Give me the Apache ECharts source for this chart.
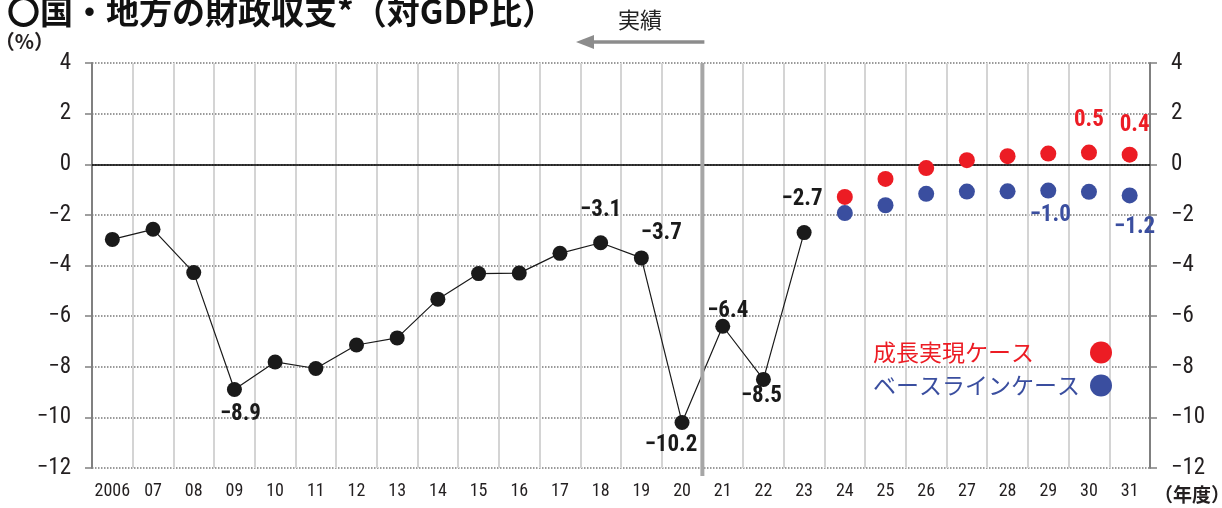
<!DOCTYPE html>
<html><head><meta charset="utf-8">
<script src="https://cdn.jsdelivr.net/npm/echarts@6.0.0/dist/echarts.min.js"></script>
<style>html,body{margin:0;padding:0;background:#fff}#c{width:1222px;height:508px}</style>
</head><body><div id="c"></div>
<script>
// ---- data ----
const categories = ['2006','07','08','09','10','11','12','13','14','15','16','17','18','19','20','21','22','23','24','25','26','27','28','29','30','31'];
const actualValues = [-2.97,-2.57,-4.28,-8.9,-7.81,-8.07,-7.14,-6.86,-5.33,-4.32,-4.3,-3.52,-3.1,-3.7,-10.2,-6.4,-8.5,-2.7,null,null,null,null,null,null,null,null];
const growthValues = [null,null,null,null,null,null,null,null,null,null,null,null,null,null,null,null,null,null,-1.29,-0.58,-0.15,0.16,0.32,0.42,0.46,0.38];
const baselineValues = [null,null,null,null,null,null,null,null,null,null,null,null,null,null,null,null,null,null,-1.93,-1.62,-1.17,-1.08,-1.07,-1.04,-1.09,-1.23];
const yMin = -12, yMax = 4, yStep = 2;
const seriesNames = ['実績', '成長実現ケース', 'ベースラインケース'];

// ---- styling (label placement per labelled point) ----
const actualLabelOffsets = {3:[6,25], 12:[0,-32], 13:[20,-25], 14:[-11,23], 15:[5,-15], 16:[-2,17], 17:[-2,-33]};
const growthLabelOffsets = {24:[0,-32], 25:[5,-29]};
const baselineLabelOffsets = {23:[2,25], 25:[5,32]};
const NARROW = "'Liberation Sans Narrow','Roboto Condensed','Arial Narrow','Liberation Sans',sans-serif";
const JP = "'Noto Sans CJK JP','Noto Sans',sans-serif";
const C_BLACK = '#1a1a1a', C_RED = '#ec1c24', C_BLUE = '#3a4e9f';

const fmt = v => (v < 0 ? '\u2212' : '') + Math.abs(v).toFixed(1);

function buildData(values, offsets, color) {
  return values.map((v, i) => {
    if (v === null) return '-';
    const off = offsets[i];
    if (!off) return v;
    return {value: v, label: {show: true, position: 'inside', offset: off, formatter: p => fmt(p.value),
      color: color, fontSize: 23, fontWeight: 'bold', fontFamily: NARROW}};
  });
}

const chart = echarts.init(document.getElementById('c'), null, {renderer: 'canvas'});
const yAxisBase = {
  type: 'value', min: yMin, max: yMax, interval: yStep,
  axisLine: {show: true, lineStyle: {color: '#808080', width: 2}},
  axisTick: {show: true, length: 7, lineStyle: {color: '#808080', width: 1.5}},
  axisLabel: {fontSize: 23, margin: 21, color: '#231f20', fontFamily: NARROW,
    formatter: v => (v < 0 ? '\u2212' : '') + Math.abs(v)}
};

chart.setOption({
  animation: false,
  backgroundColor: '#fff',
  title: {text: '〇国・地方の財政収支*（対GDP比）', left: 2, top: -10,
    textStyle: {fontSize: 33, fontWeight: 'bold', color: '#111', fontFamily: JP}},
  legend: {
    orient: 'vertical', align: 'right', left: 868, top: 336, itemGap: 10,
    itemWidth: 22, itemHeight: 22, icon: 'circle',
    data: [
      {name: seriesNames[1], itemStyle: {color: C_RED, opacity: 1}, textStyle: {color: C_RED, rich: {a: {width: 212, align: 'left', fontSize: 23, lineHeight: 24, color: C_RED, fontFamily: JP}}}},
      {name: seriesNames[2], itemStyle: {color: C_BLUE, opacity: 1}, textStyle: {color: C_BLUE, rich: {a: {width: 212, align: 'left', fontSize: 23, lineHeight: 24, color: C_BLUE, fontFamily: JP}}}}
    ],
    formatter: n => '{a|' + n + '}'
  },
  grid: {left: 92, right: 72, top: 63, bottom: 40, containLabel: false, outerBoundsMode: 'none'},
  xAxis: [
    {type: 'category', data: categories, boundaryGap: true, position: 'bottom',
      axisLine: {onZero: true, lineStyle: {color: '#000', width: 1.5}},
      axisTick: {inside: true, alignWithLabel: true, interval: 0, length: 5, lineStyle: {color: '#000', width: 1.2}},
      axisLabel: {show: false},
      splitLine: {show: true, interval: 0, lineStyle: {color: '#d4d4d4', width: 2}}},
    {type: 'category', data: categories, boundaryGap: true, position: 'bottom',
      axisLine: {show: false, onZero: false}, axisTick: {show: false},
      axisLabel: {interval: 0, fontSize: 18, margin: 14, color: '#231f20', fontFamily: NARROW},
      splitLine: {show: false},
      name: '（年度）', nameLocation: 'end', nameGap: 4,
      nameTextStyle: {fontSize: 19, fontWeight: 'bold', color: '#231f20', fontFamily: JP, align: 'left', verticalAlign: 'top', padding: [17, 0, 0, 0]}}
  ],
  yAxis: [
    Object.assign({}, yAxisBase, {position: 'left',
      splitLine: {show: true, lineStyle: {type: 'dotted', color: '#7a7a7a', width: 1.5}},
      name: '（%）', nameLocation: 'end', nameGap: 10,
      nameTextStyle: {fontSize: 20, fontWeight: 'bold', color: '#231f20', fontFamily: JP, align: 'right', padding: [0, 38, 0, 0]}}),
    Object.assign({}, yAxisBase, {position: 'right', splitLine: {show: false}})
  ],
  series: [
    {name: seriesNames[0], type: 'line', data: buildData(actualValues, actualLabelOffsets, C_BLACK),
      symbol: 'circle', symbolSize: 15, itemStyle: {color: C_BLACK}, lineStyle: {color: C_BLACK, width: 1.2}, z: 3},
    {name: seriesNames[1], type: 'scatter', data: buildData(growthValues, growthLabelOffsets, C_RED),
      symbol: 'circle', symbolSize: 16, itemStyle: {color: C_RED, opacity: 1}, z: 3},
    {name: seriesNames[2], type: 'scatter', data: buildData(baselineValues, baselineLabelOffsets, C_BLUE),
      symbol: 'circle', symbolSize: 16, itemStyle: {color: C_BLUE, opacity: 1}, z: 3}
  ]
});

// separator between actual (20) and projection (21) years, plus "実績" arrow
const xa = chart.convertToPixel({xAxisIndex: 0}, '20');
const xb = chart.convertToPixel({xAxisIndex: 0}, '21');
const sepX = (xa + xb) / 2;
const yTop = chart.convertToPixel({yAxisIndex: 0}, yMax);
const yBot = chart.convertToPixel({yAxisIndex: 0}, yMin);
chart.setOption({
  graphic: [
    {type: 'line', z: 100, shape: {x1: sepX, y1: yTop, x2: sepX, y2: yBot + 8}, style: {stroke: '#a6a6a6', lineWidth: 4}},
    {type: 'line', z: 100, shape: {x1: sepX + 2, y1: 42, x2: 590, y2: 42}, style: {stroke: '#8c8c8c', lineWidth: 3.5}},
    {type: 'polygon', z: 100, shape: {points: [[576, 42], [594, 35], [594, 49]]}, style: {fill: '#8c8c8c'}},
    {type: 'text', z: 100, x: 640, y: 20, style: {text: '実績', fill: '#222', font: "22px 'Noto Sans CJK JP'", align: 'center', verticalAlign: 'middle'}}
  ]
});
</script>
</body></html>
